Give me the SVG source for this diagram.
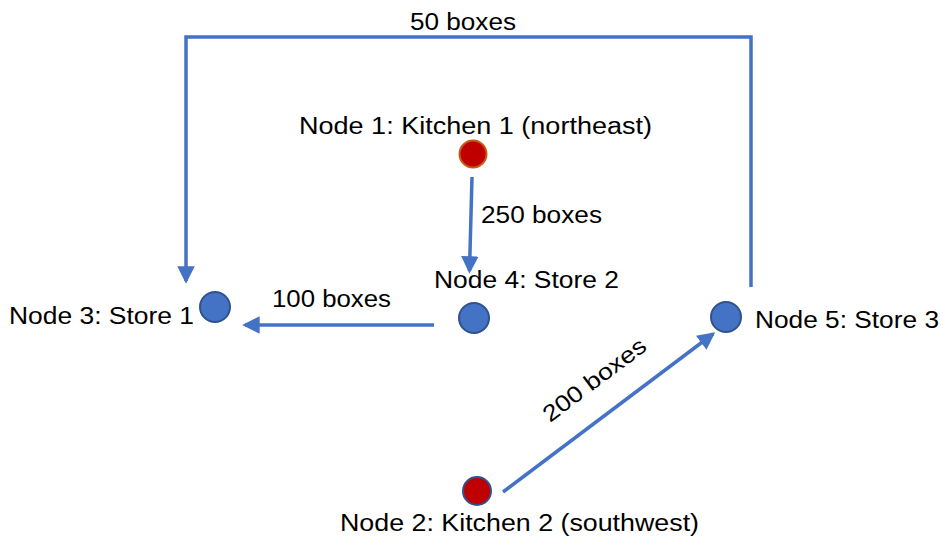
<svg xmlns="http://www.w3.org/2000/svg" width="943" height="538" viewBox="0 0 943 538">
<style>
text{font-family:"Liberation Sans",Arial,sans-serif;font-size:23px;fill:#000}
.ln{stroke:#4472C4;stroke-width:3.5;fill:none}
.blue{fill:#4472C4;stroke:#2F528F;stroke-width:2}
</style>
<defs>
<marker id="ah" markerWidth="5" markerHeight="5" refX="4.2" refY="2.5" orient="auto" markerUnits="strokeWidth">
<path d="M0,0 L5,2.5 L0,5 Z" fill="#4472C4"/>
</marker>
</defs>
<rect width="943" height="538" fill="#fff"/>
<g id="connectors">
<polyline class="ln" points="751,287 751,37 186,37 186,281" marker-end="url(#ah)"/>
<line class="ln" x1="472" y1="177" x2="469.5" y2="271" marker-end="url(#ah)"/>
<line class="ln" x1="434" y1="325" x2="245" y2="325" marker-end="url(#ah)"/>
<line class="ln" x1="503" y1="492" x2="713" y2="334" marker-end="url(#ah)"/>
<text x="463" y="30" text-anchor="middle" textLength="106" lengthAdjust="spacingAndGlyphs">50 boxes</text>
<text x="481" y="223" textLength="121" lengthAdjust="spacingAndGlyphs">250 boxes</text>
<text x="272" y="307" textLength="119" lengthAdjust="spacingAndGlyphs">100 boxes</text>
<text transform="translate(599,386) rotate(-37)" text-anchor="middle" textLength="123" lengthAdjust="spacingAndGlyphs">200 boxes</text>
</g>
<g id="node1">
<circle cx="473" cy="154" r="13.5" fill="#C00000" stroke="#C55A11" stroke-width="2"/>
<text x="299" y="134" textLength="353" lengthAdjust="spacingAndGlyphs">Node 1: Kitchen 1 (northeast)</text>
</g>
<g id="node2">
<circle cx="477" cy="491" r="14" fill="#C00000" stroke="#2F528F" stroke-width="2"/>
<text x="340" y="531" textLength="359" lengthAdjust="spacingAndGlyphs">Node 2: Kitchen 2 (southwest)</text>
</g>
<g id="node3">
<circle class="blue" cx="215" cy="307" r="15"/>
<text x="9" y="324" textLength="185" lengthAdjust="spacingAndGlyphs">Node 3: Store 1</text>
</g>
<g id="node4">
<circle class="blue" cx="474" cy="318" r="15"/>
<text x="434" y="288" textLength="185" lengthAdjust="spacingAndGlyphs">Node 4: Store 2</text>
</g>
<g id="node5">
<circle class="blue" cx="726" cy="317" r="15"/>
<text x="755" y="328" textLength="184" lengthAdjust="spacingAndGlyphs">Node 5: Store 3</text>
</g>
</svg>
